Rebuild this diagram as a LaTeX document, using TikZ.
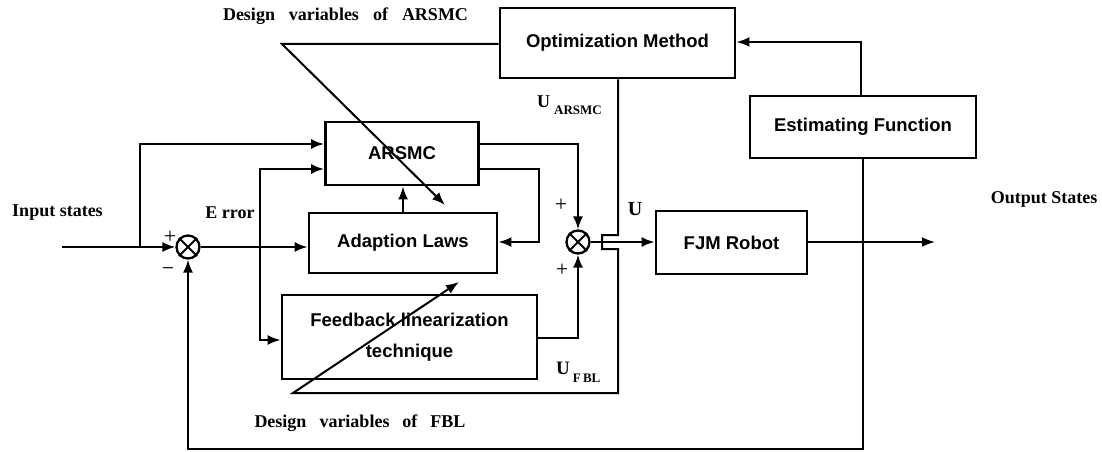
\documentclass[tikz,border=0pt]{standalone}
\usepackage{fontspec}
\setmainfont{Liberation Serif}
\newfontfamily\boxfont{Liberation Sans}
\usetikzlibrary{arrows.meta,calc}
\begin{document}
\begin{tikzpicture}[x=1pt,y=-1pt,
  blk/.style={draw,line width=2.9pt,inner sep=0pt,align=center,
    font={\boxfont\bfseries\fontsize{18.5}{22}\selectfont}},
  sumj/.style={draw,circle,line width=2.3pt,minimum size=23pt,inner sep=0pt},
  wire/.style={line width=2pt},
  arr/.style={wire,-{Latex[length=13pt,width=10pt]}},
  lbl/.style={font={\bfseries\fontsize{18}{20}\selectfont},inner sep=0pt},
  sgn/.style={font={\fontsize{22}{24}\selectfont},inner sep=0pt}
]
\useasboundingbox (0,0) rectangle (1102,452);

% blocks
\node[blk,minimum width=235pt,minimum height=70pt] (opt) at (617.5,43) {Optimization Method};
\node[blk,minimum width=226pt,minimum height=62pt] (est) at (863,127) {Estimating Function};
\node[blk,minimum width=153pt,minimum height=63pt] (ars) at (402,153.5) {ARSMC};
\node[blk,minimum width=188pt,minimum height=60pt] (ada) at (403,243) {Adaption Laws};
\node[blk,minimum width=255pt,minimum height=84pt] (fbl) at (409.5,337) {Feedback linearization\\[9pt]technique};
\node[blk,minimum width=151pt,minimum height=63pt] (fjm) at (731.5,242.5) {FJM Robot};

% summing junctions
\node[sumj] (s1) at (188,247) {};
\node[sumj] (s2) at (578,242) {};
\draw[wire] (s1.north west) -- (s1.south east);
\draw[wire] (s1.north east) -- (s1.south west);
\draw[wire] (s2.north west) -- (s2.south east);
\draw[wire] (s2.north east) -- (s2.south west);

% coordinates
\coordinate (in) at (62,247);
\coordinate (b1) at (140,247);
\coordinate (e1) at (260,247);
\coordinate (r1) at (539,242);
\coordinate (out) at (935,242);
\coordinate (fb) at (863,449);
\coordinate (o1) at (618,235);
\coordinate (o2) at (602,235);
\coordinate (o3) at (602,249);
\coordinate (o4) at (618,249);
\coordinate (o5) at (618,393);
\coordinate (o6) at (293,393);
\coordinate (o7) at (459,282);
\coordinate (d1) at (282,44);
\coordinate (d2) at (445,205);

% wires
\draw[arr] (in) -- (s1.west);
\draw[arr] (b1) |- ([yshift=9.5pt]ars.west);
\draw[arr] (s1.east) -- (ada.west |- s1.east);
\draw[arr] (e1) |- ([yshift=-15.5pt]ars.west);
\draw[arr] (e1) |- ([yshift=-3pt]fbl.west);
\draw[arr] (ada.north) -- (ada.north |- ars.south);
\draw[arr] ([yshift=9.5pt]ars.east) -| (s2.north);
\draw[arr] ([yshift=-15.5pt]ars.east) -| (r1) -- (ada.east |- r1);
\draw[arr] ([yshift=-1pt]fbl.east) -| (s2.south);
\draw[arr] (s2.east) -- (fjm.west |- s2.east);
\draw[arr] (fjm.east |- out) -- (out);
\draw[arr] ([xshift=-2pt]est.north) |- ([yshift=1pt]opt.east);
\draw[arr] (est.south) -- (fb) -| (s1.south);
\draw[arr] (opt.south -| o1) -- (o1) -- (o2) -- (o3) -- (o4) -- (o5) -- (o6) -- (o7);
\draw[arr] ([yshift=-1pt]opt.west) -- (d1) -- (d2);

% labels
\node[lbl] (dva) at (345.5,16) {Design\hspace{14pt}variables\hspace{14pt}of\hspace{14pt}ARSMC};
\node[lbl] (dvf) at (360,423) {Design\hspace{13pt}variables\hspace{13pt}of\hspace{13pt}FBL};
\node[lbl] (inl) at (57.5,213) {Input states};
\node[lbl] (err) at (230,213) {E rror};
\node[lbl] (outl) at (1044,199) {Output States};
\node[lbl,font={\bfseries\fontsize{20}{22}\selectfont}] (ul) at (635,209) {U};
\node[lbl,anchor=west] (ua) at (537,105) {{\fontsize{18}{18}\selectfont U}\hspace{4pt}\raisebox{-7pt}{\fontsize{13}{13}\selectfont ARSMC}};
\node[lbl,anchor=west] (uf) at (556,372) {{\fontsize{19}{19}\selectfont U}\hspace{3pt}\raisebox{-8pt}{\fontsize{13}{13}\selectfont F\,BL}};
\node[sgn] (p1) at (170,237) {+};
\node[sgn] (m1) at (168,272) {−};
\node[sgn] (p2) at (561,205) {+};
\node[sgn] (p3) at (562,270) {+};
\end{tikzpicture}
\end{document}
